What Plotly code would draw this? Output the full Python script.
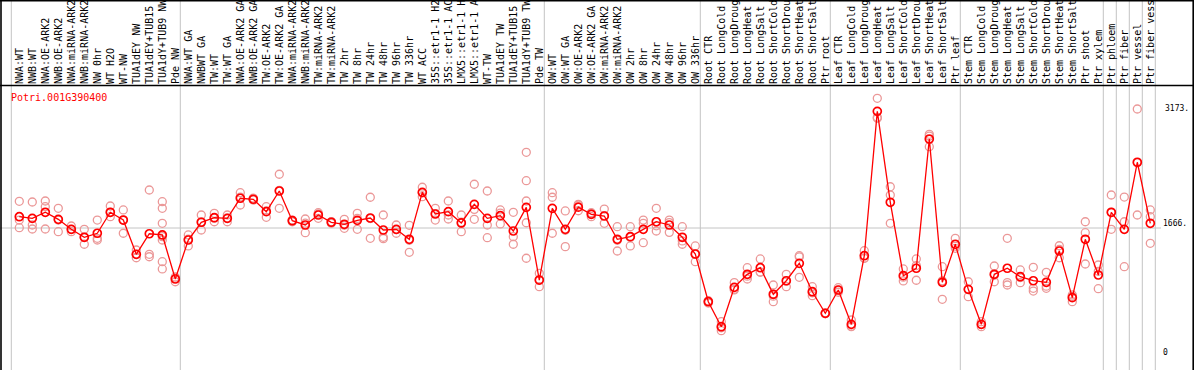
import plotly.graph_objects as go

gene = "Potri.001G390400"

categories = [
    "NWA:WT", "NWB:WT", "NWA:OE-ARK2", "NWB:OE-ARK2", "NWA:miRNA-ARK2", "NWB:miRNA-ARK2",
    "NW 0hr", "WT H2O", "WT-NW", "TUA1dEY NW", "TUA1dEY+TUB15", "TUA1dY+TUB9 NW", "Pde NW",
    "NWA:WT GA", "NWBWT GA", "TW:WT", "TW:WT GA", "NWA:OE-ARK2 GA", "NWB:OE-ARK2 GA",
    "TW:OE-ARK2", "TW:OE-ARK2 GA", "NWA:miRNA-ARK2", "NWB:miRNA-ARK2", "TW:miRNA-ARK2",
    "TW:miRNA-ARK2", "TW 2hr", "TW 8hr", "TW 24hr", "TW 48hr", "TW 96hr", "TW 336hr",
    "WT ACC", "35S::etr1-1 H2", "35S::etr1-1 AC", "LMX5::etr1-1 H", "LMX5::etr1-1 A",
    "WT-TW", "TUA1dEY TW", "TUA1dEY+TUB15", "TUA1dY+TUB9 TW", "Pde TW",
    "OW:WT", "OW:WT GA", "OW:OE-ARK2", "OW:OE-ARK2 GA", "OW:miRNA-ARK2", "OW:miRNA-ARK2",
    "OW 2hr", "OW 8hr", "OW 24hr", "OW 48hr", "OW 96hr", "OW 336hr",
    "Root CTR", "Root LongCold", "Root LongDroug", "Root LongHeat", "Root LongSalt",
    "Root ShortCold", "Root ShortDrou", "Root ShortHeat", "Root ShortSalt", "Ptr root",
    "Leaf CTR", "Leaf LongCold", "Leaf LongDroug", "Leaf LongHeat", "Leaf LongSalt",
    "Leaf ShortCold", "Leaf ShortDrou", "Leaf ShortHeat", "Leaf ShortSalt", "Ptr leaf",
    "Stem CTR", "Stem LongCold", "Stem LongDroug", "Stem LongHeat", "Stem LongSalt",
    "Stem ShortCold", "Stem ShortDrou", "Stem ShortHeat", "Stem ShortSalt", "Ptr shoot",
    "Ptr xylem", "Ptr phloem", "Ptr fiber", "Ptr vessel", "Ptr fiber vess",
]

means = [
    1812, 1791, 1869, 1778, 1649, 1546, 1598, 1869, 1769, 1326, 1592, 1576, 1007,
    1511, 1740, 1799, 1791, 2050, 2037, 1877, 2144, 1760, 1705, 1834, 1740, 1714,
    1765, 1795, 1640, 1649, 1520, 2127, 1847, 1877, 1731, 1972, 1791, 1825, 1627,
    1933, 994,
    1920, 1649, 1935, 1843, 1821, 1520, 1554, 1649, 1747, 1705, 1546, 1330,
    714, 391, 900, 1068, 1153, 810, 985, 1210, 843, 564,
    865, 422, 1308, 3173, 1998, 1050, 1146, 2815, 965, 1456,
    874, 422, 1068, 1146, 1037, 985, 965, 1369, 766, 1520,
    1059, 1869, 1649, 2515, 1727,
]

replicates = [
    [2011, 1769, 1670], [2002, 1705, 1653], [2015, 1941, 1653], [1920, 1618, 1769],
    [1692, 1618, 1649], [1649, 1456, 1546], [1769, 1533, 1511], [1950, 1812, 1869],
    [1899, 1598, 1769], [1382, 1282, 1326], [2157, 1326, 1295],
    [2006, 1920, 1727, 1554, 1511, 1231, 1137], [1016, 972, 1033],
    [1576, 1434, 1523], [1834, 1640, 1746], [1856, 1747, 1794], [1834, 1747, 1792],
    [2122, 1963, 2065], [2053, 2028, 2030], [1941, 1804, 1886], [2360, 1920, 2152],
    [1769, 1747, 1764], [1782, 1605, 1728], [1847, 1791, 1864], [1747, 1727, 1746],
    [1778, 1662, 1702], [1856, 1649, 1790], [2063, 1533, 1789], [1834, 1546, 1528],
    [1705, 1598, 1644], [1701, 1352, 1507], [2192, 2070, 2119], [1920, 1769, 1852],
    [2015, 1782, 1834], [1834, 1618, 1741], [2231, 1778, 1907], [2144, 1705, 1541],
    [1899, 1718, 1858], [1869, 1554, 1456], [2644, 2277, 2015, 1734, 1275],
    [1081, 908, 993],
    [2122, 2063, 1598], [1886, 1425, 1636], [1972, 1963, 1889], [1864, 1812, 1853],
    [1911, 1727, 1825], [1683, 1369, 1508], [1683, 1434, 1545], [1769, 1727, 1476],
    [1920, 1627, 1694], [1769, 1610, 1736], [1683, 1456, 1499], [1434, 1231, 1325],
    [727, 697, 718], [456, 340, 377], [960, 874, 866], [1153, 1007, 1044],
    [1266, 1094, 1099], [930, 714, 786], [1068, 908, 979], [1308, 1029, 1293],
    [908, 792, 829], [570, 560, 562],
    [895, 836, 864], [478, 391, 397], [1373, 1275, 1276], [3341, 3083, 3095],
    [2199, 2092, 1727], [1137, 982, 1031], [1266, 991, 1181], [2876, 2716, 2853],
    [1166, 745, 984], [1533, 1404, 1431],
    [972, 779, 871], [456, 391, 419], [1175, 972, 1057], [1533, 960, 930],
    [1124, 960, 1027], [1158, 887, 852], [1094, 887, 914], [1437, 1282, 1388],
    [801, 714, 783], [1747, 1605, 1201],
    [1188, 882, 1107], [2092, 1649, 1866], [2066, 1747, 1166], [3203, 1834, 2508],
    [1899, 1812, 1468],
]

group_starts = [0, 13, 41, 53, 63, 73, 84, 85, 86, 87, 88]
tick_values = [0, 1666]
tick_text = ["0", "1666."]
max_value = 3173
max_text = "3173."

# ---- layout geometry (pixels) ----
W, H = 1194, 370
X0, STEP = 19.3, 13.0          # pixel centre of first category, category pitch
PLOT_RIGHT = 1156              # right edge of plotting region
BOX_BOTTOM = 86                # bottom of label box (px from top)
Y_BOTTOM_VAL, Y_TOP_VAL = -168, 3500

x_lo = (0 - X0) / STEP
x_hi = (PLOT_RIGHT - X0) / STEP
xs = list(range(len(categories)))

rep_x, rep_y = [], []
for i, reps in enumerate(replicates):
    for v in reps:
        rep_x.append(i)
        rep_y.append(v)

fig = go.Figure()
fig.add_trace(go.Scatter(
    x=rep_x, y=rep_y, mode="markers",
    marker=dict(symbol="circle-open", size=8, color="#eb9898", line=dict(width=1.3, color="#eb9898")),
    hoverinfo="skip", showlegend=False,
))
fig.add_trace(go.Scatter(
    x=xs, y=means, mode="lines+markers",
    line=dict(color="#ff0000", width=1.3),
    marker=dict(symbol="circle-open", size=8, color="#ff0000", line=dict(width=1.7, color="#ff0000")),
    showlegend=False,
))

shapes = []
# group separators (vertical, through label box and plot)
for g in group_starts:
    shapes.append(dict(type="line", xref="x", yref="paper", x0=g - 8 / STEP, x1=g - 8 / STEP,
                       y0=0, y1=1, line=dict(color="#c4c4c4", width=1), layer="below"))
# horizontal reference line
shapes.append(dict(type="line", xref="paper", yref="y", x0=0, x1=1161 / W, y0=1666, y1=1666,
                   line=dict(color="#c4c4c4", width=1), layer="below"))
# black frame
blk = dict(color="black", width=1.6)
shapes += [
    dict(type="line", xref="paper", yref="paper", x0=0, x1=1, y0=1 - 0.6 / H, y1=1 - 0.6 / H, line=blk),
    dict(type="line", xref="paper", yref="paper", x0=0, x1=1, y0=1 - 85.5 / H, y1=1 - 85.5 / H, line=blk),
    dict(type="line", xref="paper", yref="paper", x0=1 / W, x1=1 / W, y0=0, y1=1, line=blk),
    dict(type="line", xref="paper", yref="paper", x0=1 - 0.8 / W, x1=1 - 0.8 / W, y0=0, y1=1, line=blk),
]

mono = "DejaVu Sans Mono"
fig.update_layout(
    template="none",
    width=W, height=H,
    margin=dict(l=0, r=0, t=0, b=0),
    paper_bgcolor="white", plot_bgcolor="white",
    showlegend=False,
    shapes=shapes,
    xaxis=dict(
        domain=[0, PLOT_RIGHT / W], range=[x_lo, x_hi], side="top",
        tickmode="array", tickvals=xs, ticktext=categories, tickangle=-90,
        tickfont=dict(family=mono, size=10, color="black"),
        showgrid=False, zeroline=False, showline=False, ticks="",
        ticklabelstandoff=1, automargin=False, fixedrange=True,
    ),
    yaxis=dict(
        domain=[0, 1 - BOX_BOTTOM / H], range=[Y_BOTTOM_VAL, Y_TOP_VAL], side="right",
        tickmode="array", tickvals=tick_values, ticktext=tick_text,
        tickfont=dict(family=mono, size=8, color="black"),
        showgrid=False, zeroline=False, showline=False, ticks="",
        ticklabelshift=-5, ticklabelstandoff=6, automargin=False, fixedrange=True,
    ),
    annotations=[
        dict(text=gene, xref="paper", yref="paper", x=9 / W, y=1 - 97 / H,
             xanchor="left", yanchor="middle", showarrow=False,
             font=dict(family=mono, size=10, color="#ff0000")),
        dict(text=max_text, xref="paper", yref="paper", x=1163 / W, y=1 - 108 / H,
             xanchor="left", yanchor="middle", showarrow=False,
             font=dict(family=mono, size=8, color="black")),
    ],
)

fig.write_html(
    "out.html",
    config={"displayModeBar": False},
    post_script="document.body.style.margin='0';document.body.style.padding='0';",
)
